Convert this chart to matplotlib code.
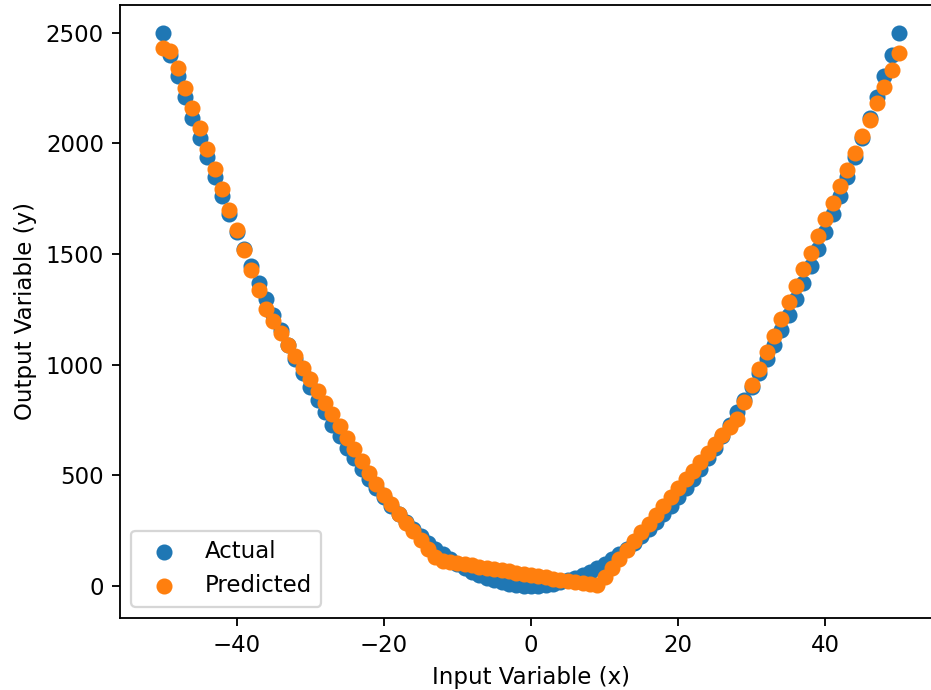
import matplotlib
matplotlib.use("Agg")
import matplotlib.pyplot as plt

# input values
x_values = [-50, -49, -48, -47, -46, -45, -44, -43, -42, -41,
            -40, -39, -38, -37, -36, -35, -34, -33, -32, -31,
            -30, -29, -28, -27, -26, -25, -24, -23, -22, -21,
            -20, -19, -18, -17, -16, -15, -14, -13, -12, -11,
            -10, -9, -8, -7, -6, -5, -4, -3, -2, -1,
            0, 1, 2, 3, 4, 5, 6, 7, 8, 9,
            10, 11, 12, 13, 14, 15, 16, 17, 18, 19,
            20, 21, 22, 23, 24, 25, 26, 27, 28, 29,
            30, 31, 32, 33, 34, 35, 36, 37, 38, 39,
            40, 41, 42, 43, 44, 45, 46, 47, 48, 49, 50]

# actual outputs
actual_y = [2500, 2401, 2304, 2209, 2116, 2025, 1936, 1849, 1764, 1681,
            1600, 1521, 1444, 1369, 1296, 1225, 1156, 1089, 1024, 961,
            900, 841, 784, 729, 676, 625, 576, 529, 484, 441,
            400, 361, 324, 289, 256, 225, 196, 169, 144, 121,
            100, 81, 64, 49, 36, 25, 16, 9, 4, 1,
            0, 1, 4, 9, 16, 25, 36, 49, 64, 81,
            100, 121, 144, 169, 196, 225, 256, 289, 324, 361,
            400, 441, 484, 529, 576, 625, 676, 729, 784, 841,
            900, 961, 1024, 1089, 1156, 1225, 1296, 1369, 1444, 1521,
            1600, 1681, 1764, 1849, 1936, 2025, 2116, 2209, 2304, 2401, 2500]

# model predictions
predicted_y = [2432, 2418, 2342, 2250, 2158, 2067, 1975, 1884, 1792, 1700,
               1608, 1517, 1426, 1336, 1250, 1196, 1143, 1090, 1038, 985,
               933, 880, 828, 775, 722, 670, 617, 565, 512, 460,
               410, 368, 327, 286, 246, 206, 168, 132, 114, 109,
               103, 98, 93, 87, 82, 76, 71, 66, 60, 55,
               50, 44, 39, 33, 28, 23, 17, 12, 7, 2,
               42, 82, 122, 162, 202, 242, 282, 322, 362, 402,
               442, 482, 521, 561, 601, 640, 680, 718, 756, 831,
               906, 981, 1056, 1131, 1206, 1281, 1356, 1431, 1506, 1581,
               1656, 1731, 1806, 1881, 1956, 2031, 2106, 2181, 2256, 2331, 2406]

fig = plt.figure(figsize=(931 / 165, 690 / 165), dpi=165)
# axes run a little past the right edge, as in the original (cropped) image
ax = fig.add_axes([120 / 931, 72 / 690, 822 / 931, 613 / 690])

ax.scatter(x_values, actual_y, label='Actual')
ax.scatter(x_values, predicted_y, label='Predicted')
ax.set_xlim(-55.84, 55.84)
ax.set_ylim(-145, 2625)
ax.set_xlabel('Input Variable (x)')
ax.set_ylabel('Output Variable (y)')
ax.legend(loc='lower left')

fig.savefig('out.png', dpi=165)
